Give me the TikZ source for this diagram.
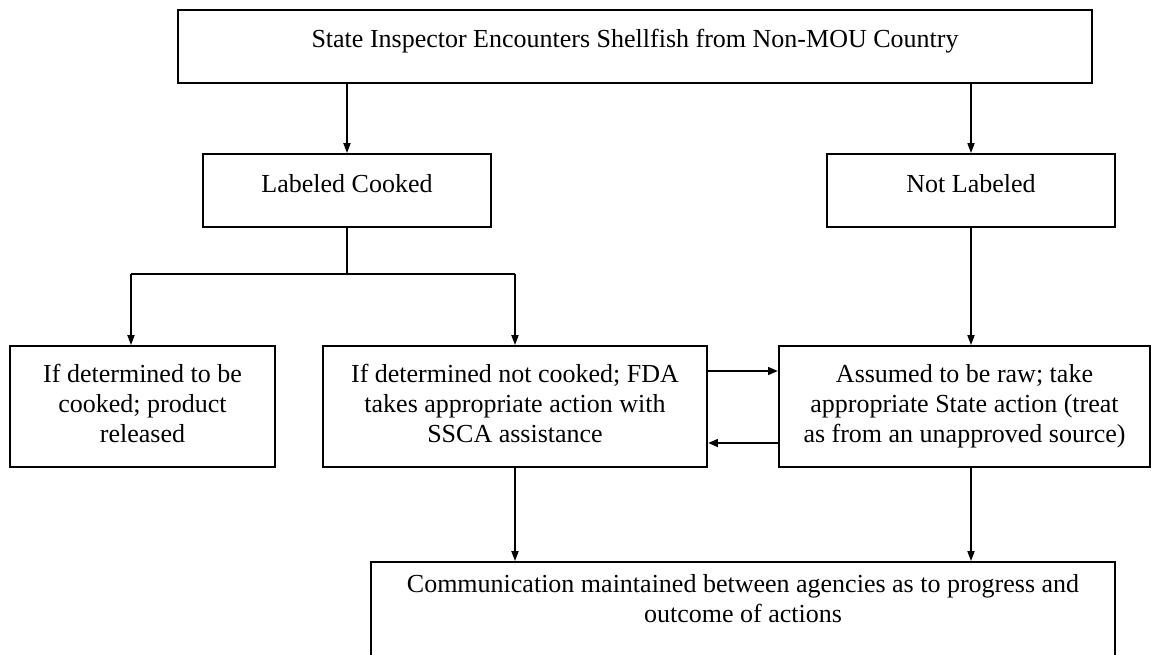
\documentclass[tikz,border=0pt]{standalone}
\usepackage{fontspec}
\setmainfont{Liberation Serif}
\usetikzlibrary{arrows.meta}
\begin{document}
\begin{tikzpicture}[x=1pt,y=-1pt,
  box/.style={draw,line width=1.8pt,inner sep=0pt,align=center,font=\fontsize{26}{30}\selectfont},
  txt/.style={inner sep=0pt,align=center,font=\fontsize{26}{30}\selectfont},
  conn/.style={line width=1.7pt},
  arr/.style={line width=1.7pt,-{Triangle[length=10pt,width=7pt]}},
  harr/.style={line width=2.8pt,-{Triangle[length=10pt,width=7.5pt]}}]
\useasboundingbox (0,0) rectangle (1151,654);
% boxes
\node[box,minimum width=914pt,minimum height=73pt,text depth=16pt] (top) at (635,46.5) {State Inspector Encounters Shellfish from Non-MOU Country};
\node[box,minimum width=288pt,minimum height=73pt,text depth=14pt] (lc) at (347,190.5) {Labeled Cooked};
\node[box,minimum width=288pt,minimum height=73pt,text depth=14pt] (nl) at (971,190.5) {Not Labeled};
\node[box,minimum width=265pt,minimum height=121pt] (lb) at (142.5,406.5) {\strut If determined to be\\cooked; product\\released\strut};
\node[box,minimum width=384pt,minimum height=121pt] (mb) at (515,406.5) {\strut If determined not cooked; FDA\\takes appropriate action with\\SSCA assistance\strut};
\node[box,minimum width=371pt,minimum height=121pt] (rb) at (964.5,406.5) {\strut Assumed to be raw; take\\appropriate State action (treat\\as from an unapproved source)\strut};
\node[box,minimum width=744pt,minimum height=110pt] (bb) at (743,617) {};
\node[txt,anchor=north] (bt) at (743,574) {Communication maintained between agencies as to progress and\\outcome of actions};
% connectors
\draw[arr] (top.south -| lc.north) -- (lc.north);
\draw[arr] (top.south -| nl.north) -- (nl.north);
\coordinate (j) at (347,274);
\coordinate (jl) at (131,274);
\coordinate (jr) at (515,274);
\draw[conn] (lc.south) -- (j);
\draw[conn] (jl) -- (jr);
\draw[arr] (jl) -- (jl |- lb.north);
\draw[arr] (jr) -- (mb.north);
\draw[arr] (nl.south) -- (nl.south |- rb.north);
\draw[harr] ([yshift=35.5pt]mb.east) -- ([yshift=35.5pt]rb.west);
\draw[harr] ([yshift=-36.5pt]rb.west) -- ([yshift=-36.5pt]mb.east);
\draw[arr] (mb.south) -- (mb.south |- bb.north);
\draw[arr] (nl.south |- rb.south) -- (nl.south |- bb.north);
\end{tikzpicture}
\end{document}
